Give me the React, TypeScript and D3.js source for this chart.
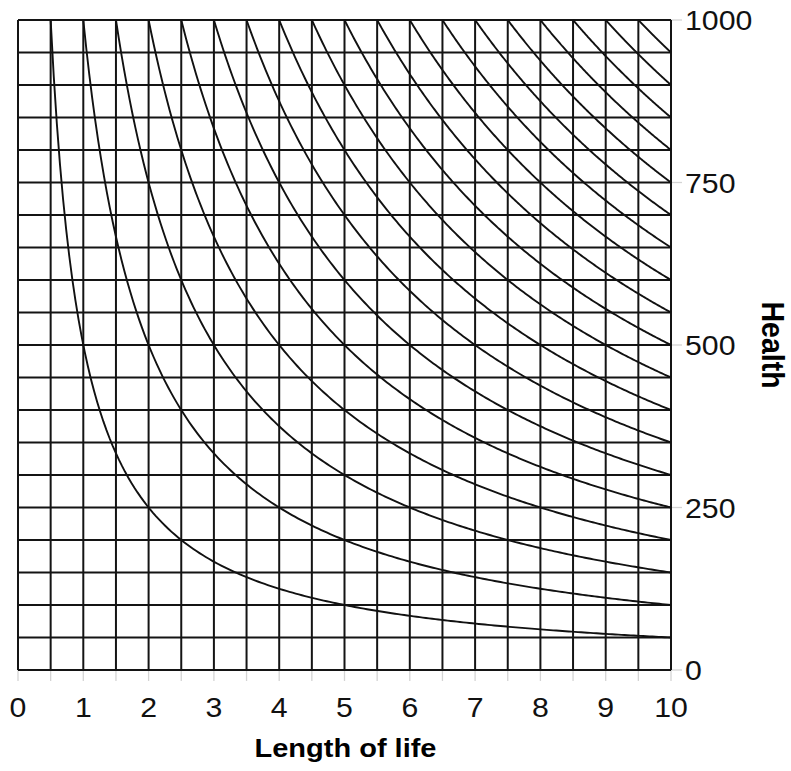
import React from "react";
import * as d3 from "d3";

const xTickLabels = [0, 1, 2, 3, 4, 5, 6, 7, 8, 9, 10];
const yTickLabels = [0, 250, 500, 750, 1000];
const xGridValues = [0, 0.5, 1, 1.5, 2, 2.5, 3, 3.5, 4, 4.5, 5, 5.5, 6, 6.5, 7, 7.5, 8, 8.5, 9, 9.5, 10];
const yGridValues = [0, 50, 100, 150, 200, 250, 300, 350, 400, 450, 500, 550, 600, 650, 700, 750, 800, 850, 900, 950, 1000];
// each curve: health × length = constant
const curveProducts = [500, 1000, 1500, 2000, 2500, 3000, 3500, 4000, 4500, 5000, 5500, 6000, 6500, 7000, 7500, 8000, 8500, 9000, 9500];
const xTitle = "Length of life";
const yTitle = "Health";

const W = 791;
const H = 771;
const left = 18;
const right = 671;
const top = 20;
const bottom = 670;

export default function App() {
  const x = d3.scaleLinear().domain([0, 10]).range([left, right]);
  const y = d3.scaleLinear().domain([0, 1000]).range([bottom, top]);
  const line = d3
    .line<[number, number]>()
    .x((d) => x(d[0]))
    .y((d) => y(d[1]))
    .curve(d3.curveLinear);

  const curves = curveProducts.map((k) => {
    const x0 = k / 1000;
    const pts: [number, number][] = [];
    const n = 200;
    for (let i = 0; i <= n; i++) {
      const xv = x0 + ((10 - x0) * i) / n;
      pts.push([xv, k / xv]);
    }
    return line(pts) || "";
  });

  const font = "'Liberation Sans', Arial, Helvetica, sans-serif";
  const gridColor = "#141414";

  return (
    <svg
      width={W}
      height={H}
      style={{ position: "absolute", left: 0, top: 0, background: "#fff" }}
    >
      {/* ticks */}
      {xGridValues.map((v) => (
        <line key={"xt" + v} x1={x(v)} x2={x(v)} y1={bottom} y2={bottom + 11} stroke="#d4d4d4" strokeWidth={1.3} />
      ))}
      {yTickLabels.map((v) => (
        <line key={"yt" + v} x1={right} x2={right + 11} y1={y(v)} y2={y(v)} stroke="#d4d4d4" strokeWidth={1.3} />
      ))}
      {/* grid */}
      {xGridValues.map((v) => (
        <line key={"xg" + v} x1={x(v)} x2={x(v)} y1={top} y2={bottom} stroke={gridColor} strokeWidth={2} />
      ))}
      {yGridValues.map((v) => (
        <line key={"yg" + v} x1={left} x2={right} y1={y(v)} y2={y(v)} stroke={gridColor} strokeWidth={2} />
      ))}
      {/* curves */}
      {curves.map((d, i) => (
        <path key={"c" + i} d={d} fill="none" stroke="#111" strokeWidth={1.9} />
      ))}
      {/* labels */}
      {xTickLabels.map((v) => (
        <text
          key={"xl" + v}
          transform={`translate(${x(v)}, 717) scale(1.1, 1)`}
          textAnchor="middle"
          fontFamily={font}
          fontSize={27.5}
          fill="#111"
        >
          {v}
        </text>
      ))}
      {yTickLabels.map((v) => (
        <text
          key={"yl" + v}
          transform={`translate(685, ${y(v) + 10}) scale(1.1, 1)`}
          textAnchor="start"
          fontFamily={font}
          fontSize={27.5}
          fill="#111"
        >
          {v}
        </text>
      ))}
      <text
        transform={`translate(${(left + right) / 2 + 1}, 757) scale(1.16, 1)`}
        textAnchor="middle"
        fontFamily={font}
        fontSize={25}
        fontWeight="bold"
        fill="#000"
      >
        {xTitle}
      </text>
      <text
        transform={`translate(762, ${(top + bottom) / 2}) rotate(90) scale(1, 1.12)`}
        textAnchor="middle"
        fontFamily={font}
        fontSize={28.5}
        fontWeight="bold"
        fill="#000"
      >
        {yTitle}
      </text>
    </svg>
  );
}
